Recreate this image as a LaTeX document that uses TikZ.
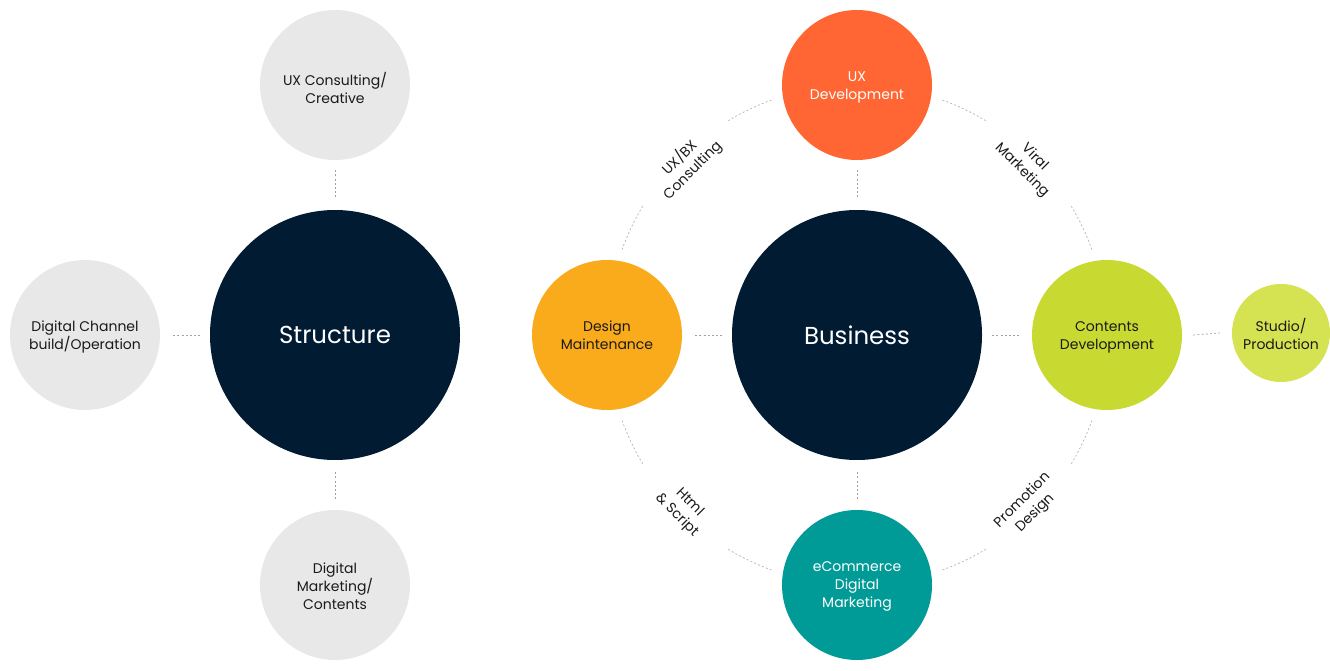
\documentclass[tikz,border=0pt]{standalone}
\usepackage{fontspec}
\setmainfont{Poppins}
\usetikzlibrary{calc}
\definecolor{navy}{HTML}{011B33}
\definecolor{lgray}{HTML}{E8E8E8}
\definecolor{orng}{HTML}{FF6633}
\definecolor{yell}{HTML}{F9AB1B}
\definecolor{lime}{HTML}{C8DA32}
\definecolor{lime2}{HTML}{D5E352}
\definecolor{teal}{HTML}{009B96}
\definecolor{txt}{HTML}{1A1A1A}
\definecolor{dashc}{HTML}{A0A0A0}
\tikzset{
  bigc/.style={circle, inner sep=0pt, minimum size=250pt, fill=navy, text=white, font=\fontsize{24.5}{28}\selectfont},
  smc/.style={circle, inner sep=0pt, minimum size=150pt},
  ctext/.style={align=center, text=txt, inner sep=0pt, font=\fontsize{14}{18}\selectfont},
  dashline/.style={draw=dashc, line width=0.7pt, dash pattern=on 2pt off 2.2pt},
  arclabel/.style={align=center, text=txt, font=\fontsize{14}{18}\selectfont, inner sep=0pt}
}
\begin{document}
\begin{tikzpicture}[x=1pt,y=1pt]
\useasboundingbox (0,0) rectangle (1330,670);
% Structure cluster
\node[bigc] (st) at (335,335) {Structure};
\node[smc, fill=lgray] (uxc) at (335,585) {};
\node[ctext] (uxct) at ([yshift=-2.5pt]uxc.center) {UX Consulting/\\Creative};
\node[smc, fill=lgray] (dch) at (85,335) {};
\node[ctext] (dcht) at ([yshift=-2pt]dch.center) {Digital Channel\\build/Operation};
\node[smc, fill=lgray] (dmk) at (335,85) {};
\node[ctext] (dmkt) at ([yshift=-1pt]dmk.center) {Digital\\Marketing/\\Contents};
\draw[dashline] ([yshift=-10pt]uxc.south) -- ([yshift=12pt]st.north);
\draw[dashline] ([xshift=13pt]dch.east) -- ([xshift=-9pt]st.west);
\draw[dashline] ([yshift=-12pt]st.south) -- ([yshift=10pt]dmk.north);
% Business cluster
\node[bigc] (bz) at (857,335) {Business};
\node[smc, fill=orng] (uxd) at (857,585) {};
\node[ctext, text=white] (uxdt) at ([yshift=-2.5pt]uxd.center) {UX\\Development};
\node[smc, fill=yell] (dsm) at (607,335) {};
\node[ctext] (dsmt) at ([yshift=-0.5pt]dsm.center) {Design\\Maintenance};
\node[smc, fill=lime] (cnt) at (1107,335) {};
\node[ctext] (cntt) at ([yshift=-2pt]cnt.center) {Contents\\Development};
\node[smc, fill=teal] (ecm) at (857,85) {};
\node[ctext, text=white] (ecmt) at ([yshift=-1.5pt]ecm.center) {eCommerce\\Digital\\Marketing};
\node[smc, fill=lime2, minimum size=98pt] (stu) at (1281,337) {};
\node[ctext] (stut) at ([yshift=-1pt]stu.center) {Studio/\\Production};
\draw[dashline] ([yshift=-10pt]uxd.south) -- ([yshift=12pt]bz.north);
\draw[dashline] ([yshift=-12pt]bz.south) -- ([yshift=10pt]ecm.north);
\draw[dashline] ([xshift=13pt]dsm.east) -- ([xshift=-9pt]bz.west);
\draw[dashline] ([xshift=10pt]bz.east) -- ([xshift=-12pt]cnt.west);
\draw[dashline] ([xshift=11pt]cnt.east) -- ([xshift=-12pt]stu.west);
% ring arcs
\foreach \a in {20,110,200,290}{
  \draw[dashline, draw=dashc!80] ([shift={(\a:250)}]bz.center) arc[start angle=\a, end angle=\a+11, radius=250];
  \draw[dashline, draw=dashc!80] ([shift={(\a+39:250)}]bz.center) arc[start angle=\a+39, end angle=\a+50, radius=250];
}
% ring labels
\node[arclabel, rotate=45] (l1) at ([shift={(135:242)}]bz.center) {UX/BX\\Consulting};
\node[arclabel, rotate=-45] (l2) at ([shift={(45:242)}]bz.center) {Viral\\Marketing};
\node[arclabel, rotate=-45] (l3) at ([shift={(225:246)}]bz.center) {Html\\\&{} Script};
\node[arclabel, rotate=45] (l4) at ([shift={(315:243)}]bz.center) {Promotion\\Design};
\end{tikzpicture}
\end{document}
